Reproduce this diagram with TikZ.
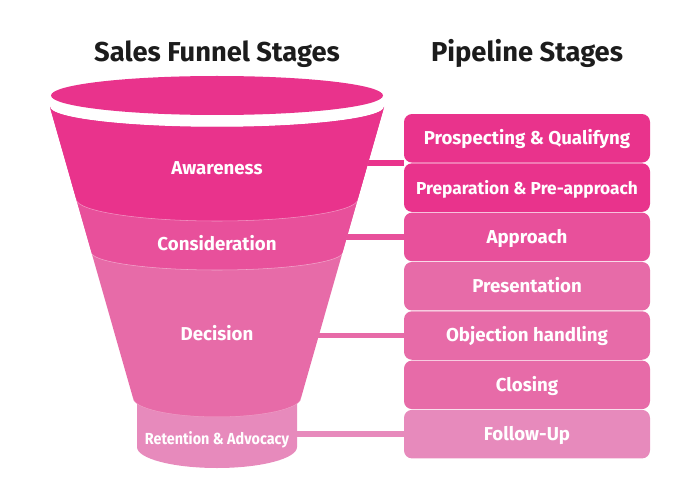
\documentclass[tikz,border=0pt]{standalone}
\usepackage{fontspec}
\setmainfont{Fira Sans}
\usetikzlibrary{positioning}
\definecolor{awareC}{HTML}{E9338C}
\definecolor{considC}{HTML}{E8509B}
\definecolor{decideC}{HTML}{E76BA8}
\definecolor{retainC}{HTML}{E78ABC}
\definecolor{titleC}{HTML}{1C1C1C}
\pgfdeclarelayer{bg}
\pgfsetlayers{bg,main}
\tikzset{
    title/.style={anchor=base, text=titleC, font=\bfseries\fontsize{20.5}{22}\selectfont},
    stage/.style={anchor=base, text=white, font=\bfseries\fontsize{14}{16}\selectfont},
    pipe/.style={rectangle, rounded corners=6pt, minimum width=184.5pt, minimum height=36.4pt, inner sep=0pt, text height=9.6pt, text depth=0pt, text=white, font=\bfseries\fontsize{14}{16}\selectfont},
    link/.style={line width=4.1pt},
    seam/.style={white, opacity=0.45, line width=0.4pt}
}
\begin{document}
\begin{tikzpicture}[x=0.75pt, y=-0.75pt, node distance=36.98pt]
    \useasboundingbox (0,0) rectangle (685,481);

    % headings
    \node (ttl1) [title] at (217,62) {Sales Funnel Stages};
    \node (ttl2) [title] at (527,62) {Pipeline Stages};

    % funnel
    \fill [awareC] (217,95.5) ellipse [x radius=166, y radius=19.5];
    \fill [retainC] (137,398) -- (137,447) arc [start angle=180, end angle=0, x radius=80, y radius=21] -- (297,398) -- cycle;
    \begin{scope}
        \clip (50,107) arc [start angle=180, end angle=0, x radius=167, y radius=20] -- (301,398) arc [start angle=0, end angle=180, x radius=84, y radius=19] -- cycle;
        \fill [decideC] (0,0) rectangle (685,481);
        \fill [considC] (0,0) rectangle (685,252);
        \fill [considC] (217,252) ellipse [x radius=126, y radius=18];
        \fill [awareC] (0,0) rectangle (685,199);
        \fill [awareC] (217,199) ellipse [x radius=141, y radius=22];
        \draw [seam] (76,199) arc [start angle=180, end angle=0, x radius=141, y radius=22];
        \draw [seam] (91,252) arc [start angle=180, end angle=0, x radius=126, y radius=18];
        \draw [seam] (133,398) arc [start angle=180, end angle=0, x radius=84, y radius=19];
    \end{scope}

    \node (aware) [stage] at (217,175) {Awareness};
    \node (consid) [stage] at (217,250) {Consideration};
    \node (decis) [stage] at (217,340) {Decision};
    \node (retain) [stage, font=\bfseries\fontsize{12}{14}\selectfont\addfontfeature{FakeStretch=0.9}] at (217,444) {Retention \& Advocacy};

    % pipeline
    \node (prosp) [pipe, fill=awareC] at (527,138.3) {Prospecting \& Qualifyng};
    \node (prep) [pipe, fill=awareC, below of=prosp, font=\bfseries\fontsize{13}{15}\selectfont] {Preparation \& Pre-approach};
    \node (appr) [pipe, fill=considC, below of=prep] {Approach};
    \node (pres) [pipe, fill=decideC, below of=appr] {Presentation};
    \node (objec) [pipe, fill=decideC, below of=pres] {Objection handling};
    \node (closing) [pipe, fill=decideC, below of=objec] {Closing};
    \node (follow) [pipe, fill=retainC, below of=closing] {Follow-Up};

    \begin{pgfonlayer}{bg}
        \draw [link, awareC] (aware |- prosp.south west) -- (prosp.south west);
        \draw [link, considC] (consid |- appr.west) -- (appr.west);
        \draw [link, decideC] (decis |- objec.west) -- (objec.west);
        \draw [link, retainC] (retain |- follow.west) -- (follow.west);
    \end{pgfonlayer}

\end{tikzpicture}
\end{document}
